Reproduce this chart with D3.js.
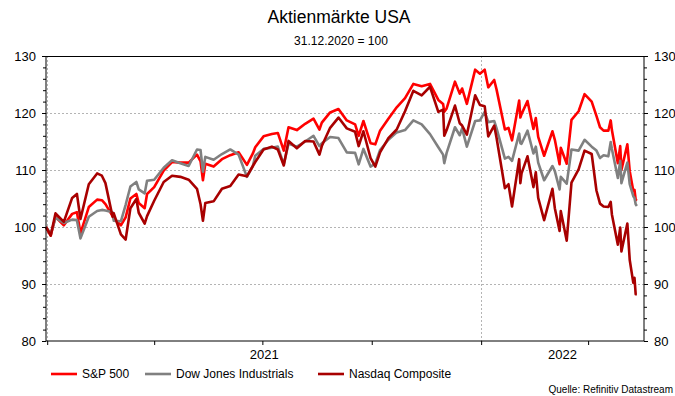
<!DOCTYPE html>
<html>
<head>
<meta charset="utf-8">
<script src="https://cdn.jsdelivr.net/npm/d3@7"></script>
<style>
  body { margin: 0; background: #fff; }
  svg { font-family: "Liberation Sans", Arial, sans-serif; }
</style>
</head>
<body>
<svg id="chart" width="675" height="396"></svg>
<script>
// one row per month
const dates = [
  '2020-12-31','2021-01-04','2021-01-08','2021-01-15','2021-01-22','2021-01-26','2021-01-29',
  '2021-02-05','2021-02-12','2021-02-16','2021-02-19','2021-02-25','2021-02-26',
  '2021-03-04','2021-03-08','2021-03-12','2021-03-17','2021-03-19','2021-03-24','2021-03-26',
  '2021-04-01','2021-04-09','2021-04-16','2021-04-23','2021-04-30',
  '2021-05-07','2021-05-10','2021-05-12','2021-05-14','2021-05-21','2021-05-28',
  '2021-06-04','2021-06-11','2021-06-18','2021-06-23','2021-06-25',
  '2021-07-02','2021-07-09','2021-07-14','2021-07-19','2021-07-23','2021-07-30',
  '2021-08-06','2021-08-13','2021-08-18','2021-08-20','2021-08-27',
  '2021-09-03','2021-09-10','2021-09-17','2021-09-20','2021-09-24','2021-09-30',
  '2021-10-04','2021-10-08','2021-10-15','2021-10-22','2021-10-29',
  '2021-11-05','2021-11-12','2021-11-19','2021-11-26','2021-11-30',
  '2021-12-01','2021-12-03','2021-12-10','2021-12-14','2021-12-16','2021-12-20','2021-12-27','2021-12-31',
  '2022-01-04','2022-01-07','2022-01-12','2022-01-14','2022-01-21','2022-01-24','2022-01-27',
  '2022-02-02','2022-02-03','2022-02-04','2022-02-09','2022-02-14','2022-02-16','2022-02-18','2022-02-23',
  '2022-03-02','2022-03-04','2022-03-08','2022-03-09','2022-03-14','2022-03-18','2022-03-24','2022-03-29',
  '2022-04-04','2022-04-08','2022-04-11','2022-04-14','2022-04-18','2022-04-20','2022-04-21','2022-04-26','2022-04-28','2022-04-29',
  '2022-05-04','2022-05-06','2022-05-09','2022-05-10','2022-05-11','2022-05-12'
];

const spx = [
  100, 98.5, 101.8, 100.3, 102.3, 102.6, 98.9,
  103.5, 104.8, 104.7, 104.0, 101.9, 101.5,
  100.3, 101.7, 105.0, 105.8, 104.2, 103.3, 105.8,
  107.0, 109.9, 111.4, 111.3, 111.3,
  112.7, 111.5, 108.2, 111.1, 110.6, 111.9,
  112.6, 113.1, 110.9, 112.9, 114.0,
  115.9, 116.3, 116.5, 113.4, 117.5, 117.0,
  118.1, 119.0, 117.1, 118.3, 120.1,
  120.7, 118.7, 118.0, 116.0, 118.6, 114.7,
  114.5, 116.9, 119.0, 121.0, 122.6,
  125.1, 124.7, 125.1, 122.3, 121.6,
  120.2, 120.8, 125.5, 123.4, 124.3, 121.6, 127.6, 126.9,
  127.6, 124.5, 125.8, 124.1, 117.1, 117.4, 115.2,
  122.2, 119.2, 119.8, 122.1, 117.2, 119.1, 115.8, 112.5,
  116.8, 115.3, 111.0, 113.9, 111.1, 118.8, 120.3, 123.3,
  122.0, 119.5, 117.5, 116.9, 116.9, 118.7, 117.0, 111.2, 114.2, 110.0,
  114.5, 109.8, 106.3, 106.5, 104.8, 104.6
];

const dow = [
  100, 98.8, 101.6, 100.7, 101.3, 101.2, 98.0,
  101.8, 102.8, 103.0, 102.9, 102.6, 101.1,
  101.0, 103.9, 107.1, 107.9, 106.6, 105.9, 108.1,
  108.3, 110.4, 111.7, 111.2, 110.7,
  113.6, 113.5, 109.7, 112.3, 111.8, 112.8,
  113.6, 112.7, 108.8, 110.7, 112.5,
  113.7, 113.9, 114.1, 111.0, 114.6, 114.1,
  115.0, 116.0, 114.2, 114.7, 115.8,
  115.6, 113.1, 113.0, 111.0, 113.7, 110.6,
  111.1, 113.5, 115.3, 116.6, 117.0,
  118.7, 118.0, 116.3, 114.0, 112.7,
  111.2, 113.0, 117.5, 116.1, 117.3, 114.1, 118.6, 118.7,
  120.2, 118.4, 118.6, 117.3, 112.0, 112.3, 111.6,
  116.4, 114.7, 114.6, 116.9, 112.9, 114.1, 111.3, 108.2,
  110.7, 109.8, 106.6, 108.8, 107.6, 113.6, 113.4, 115.3,
  114.1, 113.4, 112.1, 112.6, 112.4, 114.9, 113.7, 108.6, 111.6, 107.7,
  111.3, 107.5, 105.4, 105.1, 104.0, 103.7
];

const ndx = [
  100, 98.5, 102.4, 100.9, 105.1, 105.8, 101.4,
  107.5, 109.4, 109.0, 107.7, 101.8, 102.4,
  98.7, 97.8, 103.3, 104.9, 102.5, 100.6, 101.9,
  104.6, 107.9, 109.0, 108.8, 108.3,
  106.7, 104.0, 101.1, 104.2, 104.5, 106.7,
  107.2, 109.2, 108.9, 110.7, 111.4,
  113.6, 114.1, 113.6, 110.8, 115.1, 113.8,
  115.1, 115.0, 112.7, 114.2, 117.4,
  119.2, 117.3, 116.7, 114.2, 116.8, 112.1,
  110.6, 113.1, 115.6, 117.1, 120.3,
  123.9, 123.1, 124.6, 120.2, 120.6,
  116.0, 117.0, 121.3, 118.2, 117.8, 116.2, 123.1, 121.4,
  121.2, 115.9, 117.8, 115.6, 106.8, 107.5, 103.6,
  111.9, 107.7, 109.4, 112.4, 107.0, 109.6, 105.1, 101.2,
  106.7, 103.3, 99.3, 102.8, 97.6, 107.8, 110.1, 113.4,
  112.8, 106.4, 104.1, 103.6, 103.5, 104.4, 102.2, 96.9, 99.9, 95.7,
  100.6, 94.2, 90.2, 91.1, 88.2, 88.2
];

const seriesNames = ['S&P 500', 'Dow Jones Industrials', 'Nasdaq Composite'];
const seriesColors = ['#ff0000', '#808080', '#a80000'];
const yTicks = [80, 90, 100, 110, 120, 130];
const yearLabels = ['2021', '2022'];

const svg = d3.select('#chart');
const margin = { left: 46, right: 31, top: 56, bottom: 55 };
const width = 675 - margin.left - margin.right;
const height = 396 - margin.top - margin.bottom;

const parse = d3.timeParse('%Y-%m-%d');
const dd = dates.map(parse);

const x = d3.scaleTime()
    .domain([parse('2020-12-31'), parse('2022-05-18')])
    .range([margin.left, margin.left + width]);
const y = d3.scaleLinear()
    .domain([80, 130])
    .range([margin.top + height, margin.top]);

// title
svg.append('text')
    .attr('x', 339).attr('y', 23)
    .attr('text-anchor', 'middle')
    .attr('font-size', 17.5)
    .text('Aktienmärkte USA');
svg.append('text')
    .attr('x', 341).attr('y', 45)
    .attr('text-anchor', 'middle')
    .attr('font-size', 12)
    .text('31.12.2020 = 100');

// grid
const grid = svg.append('g')
    .attr('stroke', '#b4b4b4')
    .attr('stroke-width', 1)
    .attr('stroke-dasharray', '2,2');
grid.selectAll('line.h')
    .data(yTicks.filter(t => t > 80 && t < 130))
    .enter()
    .append('line')
    .attr('x1', margin.left).attr('x2', margin.left + width)
    .attr('y1', d => y(d) + 0.5).attr('y2', d => y(d) + 0.5);
grid.selectAll('line.v')
    .data([parse('2021-01-01'), parse('2022-01-01')])
    .enter()
    .append('line')
    .attr('x1', d => Math.round(x(d)) + 0.5).attr('x2', d => Math.round(x(d)) + 0.5)
    .attr('y1', margin.top).attr('y2', margin.top + height);

// lines
const line = d3.line()
    .x((d, i) => x(dd[i]))
    .y(d => y(d));
[spx, dow, ndx].forEach((vals, k) => {
    svg.append('path')
        .datum(vals)
        .attr('fill', 'none')
        .attr('stroke', seriesColors[k])
        .attr('stroke-width', 2.6)
        .attr('stroke-linejoin', 'round')
        .attr('d', line);
});

// axes
const minorY = d3.range(80, 131, 2);
svg.append('g')
    .attr('transform', `translate(${margin.left},0)`)
    .call(d3.axisLeft(y).tickValues(minorY).tickSize(3).tickFormat(''))
    .call(g => g.select('.domain').remove());
svg.append('g')
    .attr('transform', `translate(${margin.left},0)`)
    .call(d3.axisLeft(y).tickValues(yTicks).tickSize(4).tickPadding(6))
    .call(g => g.select('.domain').attr('d', `M0,${margin.top}V${margin.top + height}`))
    .call(g => g.selectAll('text').attr('font-size', 13).attr('fill', '#000'));

svg.append('g')
    .attr('transform', `translate(${margin.left + width},0)`)
    .call(d3.axisRight(y).tickValues(minorY).tickSize(3).tickFormat(''))
    .call(g => g.select('.domain').remove());
svg.append('g')
    .attr('transform', `translate(${margin.left + width},0)`)
    .call(d3.axisRight(y).tickValues(yTicks).tickSize(4).tickPadding(6))
    .call(g => g.select('.domain').attr('d', `M0,${margin.top}V${margin.top + height}`))
    .call(g => g.selectAll('text').attr('font-size', 13).attr('fill', '#000'));

// top frame line
svg.append('line')
    .attr('x1', margin.left).attr('x2', margin.left + width)
    .attr('y1', margin.top + 0.5).attr('y2', margin.top + 0.5)
    .attr('stroke', '#000');

// bottom axis with quarterly ticks
svg.append('g')
    .attr('transform', `translate(0,${margin.top + height})`)
    .call(d3.axisBottom(x).ticks(d3.timeMonth.every(3)).tickSize(4).tickFormat(''))
    .call(g => g.select('.domain').attr('d', `M${margin.left},0H${margin.left + width}`));

// year labels, centred on the visible part of each year
const yearSpans = [
    [parse('2021-01-01'), parse('2022-01-01')],
    [parse('2022-01-01'), x.domain()[1]]
];
svg.selectAll('text.year')
    .data(yearLabels)
    .enter()
    .append('text')
    .attr('x', (d, i) => (x(yearSpans[i][0]) + x(yearSpans[i][1])) / 2)
    .attr('y', margin.top + height + 18)
    .attr('text-anchor', 'middle')
    .attr('font-size', 13)
    .text(d => d);

// legend
const legendX = [51, 145, 318];
const lg = svg.append('g');
seriesNames.forEach((name, k) => {
    lg.append('line')
        .attr('x1', legendX[k]).attr('x2', legendX[k] + 26)
        .attr('y1', 374).attr('y2', 374)
        .attr('stroke', seriesColors[k])
        .attr('stroke-width', 2.6);
    lg.append('text')
        .attr('x', legendX[k] + 31).attr('y', 378)
        .attr('font-size', 12)
        .text(name);
});

svg.append('text')
    .attr('x', 673).attr('y', 393)
    .attr('text-anchor', 'end')
    .attr('font-size', 10)
    .text('Quelle: Refinitiv Datastream');
</script>
</body>
</html>
